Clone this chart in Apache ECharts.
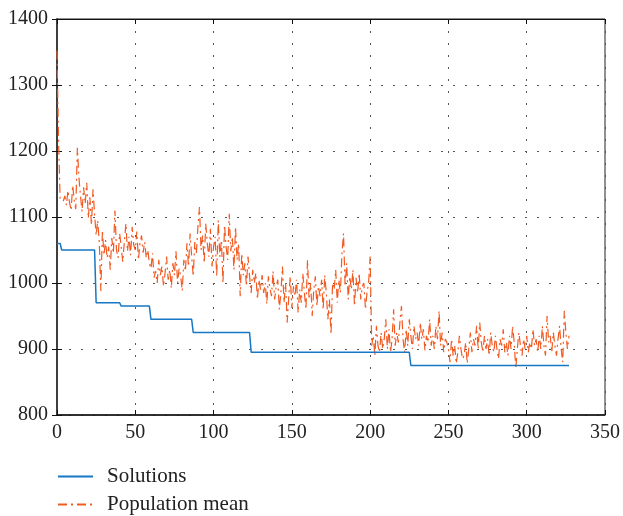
<!DOCTYPE html>
<html>
<head>
<meta charset="utf-8">
<script src="https://cdn.jsdelivr.net/npm/echarts@6/dist/echarts.min.js"></script>
<style>
  html, body { margin: 0; padding: 0; background: #fff; }
  #chart { width: 623px; height: 516px; }
</style>
</head>
<body>
<div id="chart"></div>
<script>
// Axis ticks
const xTicks = [0, 50, 100, 150, 200, 250, 300, 350];
const yTicks = [800, 900, 1000, 1100, 1200, 1300, 1400];

// Best solution found so far: [generation, value] at each change
const solutions = [
  [0, 1060], [2, 1060], [3, 1050], [24, 1050], [25, 970], [40, 970],
  [41, 965], [59, 965], [60, 945], [86, 945], [87, 925], [123, 925],
  [124, 895], [225, 895], [226, 875], [327, 875]
];

// Mean fitness of the population, one value per generation (0..327)
const populationMean = [
  1352, 1215, 1128, 1126, 1124, 1132, 1118, 1140, 1122, 1110,
  1148, 1125, 1112, 1205, 1160, 1132, 1108, 1145, 1120, 1152,
  1098, 1130, 1088, 1142, 1105, 1072, 1095, 1062, 988, 1080,
  1042, 1065, 1038, 1055, 1020, 1068, 1045, 1110, 1050, 1038,
  1075, 1055, 1032, 1062, 1090, 1048, 1070, 1042, 1085, 1058,
  1050, 1078, 1035, 1060, 1072, 1046, 1062, 1038, 1050, 1030,
  1022, 1045, 1008, 1018, 1000, 1035, 1012, 1025, 995, 1015,
  1040, 1005, 1020, 992, 1030, 1012, 1048, 1000, 1022, 1010,
  988, 1035, 1018, 1060, 1025, 1075, 1040, 1010, 1062, 1045,
  1085, 1115, 1050, 1072, 1030, 1090, 1060, 1040, 1082, 1025,
  1055, 1070, 1010, 1095, 1040, 1065, 1000, 1088, 1055, 1035,
  1105, 1048, 1070, 1020, 1085, 1035, 1060, 980, 1045, 1012,
  1030, 995, 1040, 1010, 985, 1020, 1000, 1015, 975, 1005,
  990, 1012, 985, 1000, 968, 1010, 992, 980, 1018, 975,
  995, 1005, 960, 985, 1025, 970, 1000, 940, 978, 1010,
  962, 995, 980, 1005, 955, 990, 970, 1015, 985, 960,
  1035, 975, 1000, 950, 990, 1010, 965, 995, 980, 1005,
  960, 1012, 985, 945, 975, 922, 1000, 990, 1020, 970,
  1005, 985, 1045, 1075, 995, 1030, 975, 1010, 990, 1020,
  965, 1008, 985, 1015, 975, 995, 1000, 960, 985, 1000,
  1040, 905, 920, 890, 935, 905, 895, 925, 900, 915,
  945, 900, 930, 895, 915, 960, 905, 925, 910, 940,
  965, 915, 895, 930, 905, 945, 920, 900, 935, 915,
  925, 905, 940, 915, 930, 898, 920, 910, 945, 905,
  920, 900, 935, 915, 958, 905, 925, 895, 915, 910,
  900, 880, 915, 890, 905, 878, 895, 920, 900, 885,
  890, 910, 878, 900, 925, 895, 915, 905, 935, 900,
  940, 910, 895, 920, 900, 915, 890, 925, 905, 895,
  920, 900, 885, 915, 905, 930, 895, 910, 890, 920,
  900, 935, 910, 870, 900, 925, 905, 890, 915, 900,
  920, 895, 910, 900, 930, 905, 915, 895, 920, 900,
  935, 905, 890, 950, 910, 920, 895, 925, 905, 890,
  915, 935, 900, 880, 958, 925, 900, 920
];

const FONT = '"Liberation Serif", "DejaVu Serif", serif';
const BLUE = '#1677c4';
const ORANGE = '#f25a22';

const gridLine = { show: true, lineStyle: { color: '#555', type: [2, 10], width: 1 } };
const plain = v => String(v);

// one legend block per series, stacked under the plot
const legendBase = {
  left: 57,
  padding: 0,
  itemWidth: 35,
  itemHeight: 12,
  itemGap: 8,
  itemStyle: { opacity: 0 },
  textStyle: { fontFamily: FONT, fontSize: 21, color: '#222', padding: [0, 0, 0, 9] }
};

const chart = echarts.init(document.getElementById('chart'), null, { renderer: 'canvas' });
chart.setOption({
  animation: false,
  backgroundColor: '#fff',
  textStyle: { fontFamily: FONT },
  grid: { left: 57, right: 17, top: 19, bottom: 101, show: true, borderColor: '#222', borderWidth: 1 },
  legend: [
    Object.assign({}, legendBase, { top: 466, data: ['Solutions'] }),
    Object.assign({}, legendBase, { top: 494, data: ['Population mean'] })
  ],
  xAxis: [{
    type: 'value', min: xTicks[0], max: xTicks[xTicks.length - 1], interval: 50,
    axisLine: { show: true, lineStyle: { color: '#111', width: 1.5 } },
    axisTick: { show: true, inside: true, length: 5, lineStyle: { color: '#111' } },
    axisLabel: { fontFamily: FONT, fontSize: 20, color: '#222', margin: 8, formatter: plain },
    splitLine: gridLine
  }, {
    type: 'value', position: 'top', min: xTicks[0], max: xTicks[xTicks.length - 1], interval: 50,
    axisLine: { show: true, lineStyle: { color: '#111' } },
    axisTick: { show: true, inside: true, length: 5, lineStyle: { color: '#111' } },
    axisLabel: { show: false }, splitLine: { show: false }
  }],
  yAxis: [{
    type: 'value', min: yTicks[0], max: yTicks[yTicks.length - 1], interval: 100,
    axisLine: { show: true, lineStyle: { color: '#111', width: 1.5 } },
    axisTick: { show: true, inside: true, length: 5, lineStyle: { color: '#111' } },
    axisLabel: { fontFamily: FONT, fontSize: 20, color: '#222', margin: 9, formatter: plain },
    splitLine: gridLine
  }, {
    type: 'value', position: 'right', min: yTicks[0], max: yTicks[yTicks.length - 1], interval: 100,
    axisLine: { show: true, lineStyle: { color: '#444', width: 1.5 } },
    axisTick: { show: true, inside: true, length: 5, lineStyle: { color: '#111' } },
    axisLabel: { show: false }, splitLine: { show: false }
  }],
  series: [{
    name: 'Solutions',
    type: 'line',
    data: solutions,
    showSymbol: false,
    symbol: 'none',
    color: BLUE,
    lineStyle: { color: BLUE, width: 1.5 },
    z: 3
  }, {
    name: 'Population mean',
    type: 'line',
    data: populationMean.map((v, i) => [i, v]),
    showSymbol: false,
    symbol: 'none',
    color: ORANGE,
    lineStyle: { color: ORANGE, width: 1.2, type: [9, 4, 2, 4] },
    z: 2
  }]
});
</script>
</body>
</html>
